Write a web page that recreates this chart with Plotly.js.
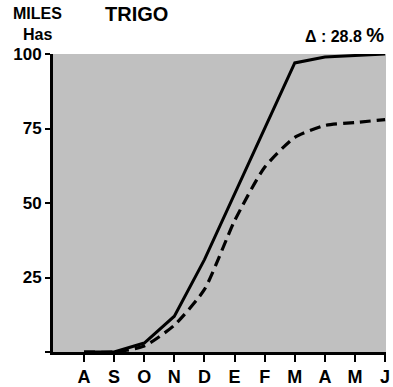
<!DOCTYPE html>
<html><head><meta charset="utf-8">
<script src="https://cdn.plot.ly/plotly-3.0.1.min.js"></script>
<style>html,body{margin:0;padding:0;background:#fff}#c{width:393px;height:387px}</style>
</head><body><div id="c"></div>
<script>
const monthIdx = [0,1,2,3,4,5,6,7,8,9,10];
const monthLabels = ['A','S','O','N','D','E','F','M','A','M','J'];
const seriesSolid = [0, 0, 3, 12, 31, 53, 75, 97, 99, 99.5, 100];
const seriesDashed = [0, 0, 2, 9, 21, 44, 62, 72, 76, 77, 78];
const yTicks = [0, 25, 50, 75, 100];
const yTickLabels = ['', '25', '50', '75', '100'];

const narrow = 'Liberation Sans Narrow, Arial Narrow, sans-serif';
const wide = 'Liberation Sans, Arial, sans-serif';
const traces = [
  {x: monthIdx, y: seriesSolid, mode: 'lines', line: {color: '#000', width: 3}, hoverinfo: 'skip'},
  {x: monthIdx, y: seriesDashed, mode: 'lines', line: {color: '#000', width: 3.2, dash: '11px,6px', shape: 'spline', smoothing: 0.6}, hoverinfo: 'skip'}
];
const layout = {
  width: 393, height: 387,
  margin: {l: 53, r: 7, t: 54, b: 35},
  paper_bgcolor: '#fff', plot_bgcolor: '#c0c0c0',
  showlegend: false,
  xaxis: {range: [-1.03, 10.03], tickvals: monthIdx, ticktext: monthLabels, showgrid: false, zeroline: false,
    showline: true, linecolor: '#000', linewidth: 2.5, ticks: 'outside', ticklen: 7, tickwidth: 2, tickcolor: '#000',
    tickfont: {family: narrow, size: 18, color: '#000', weight: 'bold'}, fixedrange: true},
  yaxis: {range: [0, 100], tickvals: yTicks, ticktext: yTickLabels, showgrid: false, zeroline: false,
    showline: true, linecolor: '#000', linewidth: 3, ticks: 'outside', ticklen: 5, tickwidth: 2, tickcolor: '#000',
    tickfont: {family: wide, size: 17, color: '#000', weight: 'bold'}, fixedrange: true},
  annotations: [
    {text: 'TRIGO', xref: 'paper', yref: 'paper', x: 0.15, y: 1, yshift: 40, xanchor: 'left', yanchor: 'middle', showarrow: false,
     font: {family: wide, size: 20, color: '#000', weight: 'bold'}},
    {text: 'MILES', xref: 'paper', yref: 'paper', x: -0.125, y: 1, yshift: 41, xanchor: 'left', yanchor: 'middle', showarrow: false,
     font: {family: narrow, size: 16, color: '#000', weight: 'bold'}},
    {text: 'Has', xref: 'paper', yref: 'paper', x: -0.095, y: 1, yshift: 20, xanchor: 'left', yanchor: 'middle', showarrow: false,
     font: {family: narrow, size: 16, color: '#000', weight: 'bold'}},
    {text: 'Δ : 28.8 <span style="font-size:20px">%</span>', xref: 'paper', yref: 'paper', x: 1, y: 1, yshift: 19, xanchor: 'right', yanchor: 'middle', showarrow: false,
     font: {family: wide, size: 16, color: '#000', weight: 'bold'}}
  ]
};
Plotly.newPlot('c', traces, layout, {staticPlot: true, displayModeBar: false});
</script></body></html>
